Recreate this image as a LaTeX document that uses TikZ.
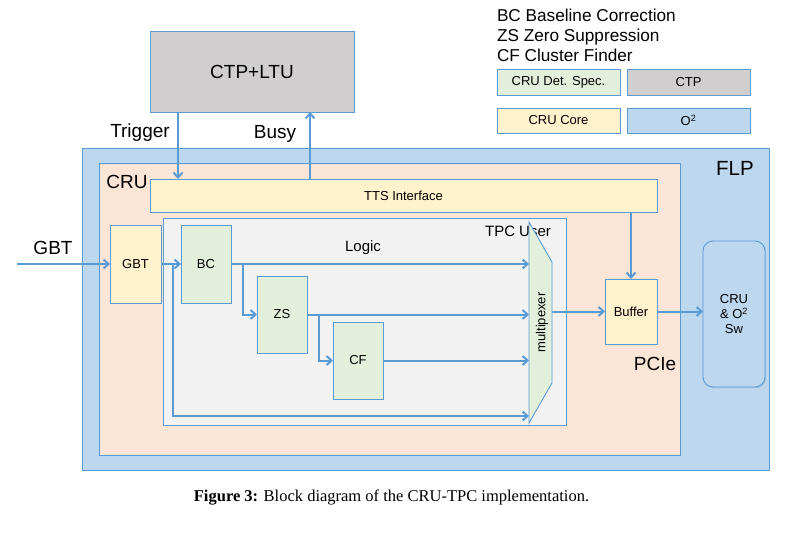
\documentclass[tikz,border=0pt]{standalone}
\usepackage{fontspec}
\setmainfont{Liberation Sans}
\newfontfamily\capfont{Liberation Serif}
\usetikzlibrary{arrows.meta,calc,shadows}
\definecolor{lineblue}{HTML}{5B9BD5}
\definecolor{flpblue}{HTML}{BDD7EE}
\definecolor{crupeach}{HTML}{FBE5D6}
\definecolor{coreyellow}{HTML}{FFF2CC}
\definecolor{detgreen}{HTML}{E2EFDA}
\definecolor{ctpgrey}{HTML}{D0CECE}
\definecolor{usergrey}{HTML}{F2F2F2}

\begin{document}
\begin{tikzpicture}[x=1pt, y=-1pt,
					every node/.style={inner sep=0pt, outer sep=0pt, align=center},
					box/.style={draw=lineblue, line width=0.9pt},
					blk/.style={box, font=\fontsize{13}{15}\selectfont, drop shadow={shadow xshift=1.2pt, shadow yshift=-1.2pt, opacity=0.25}},
					lbl/.style={font=\fontsize{19}{22}\selectfont},
					legend/.style={anchor=base west, font=\fontsize{17.2}{20}\selectfont},
					arr/.style={draw=lineblue, line width=2pt, -{Straight Barb[length=5pt, width=9pt]}}]
					\useasboundingbox (0,0) rectangle (806,540);
					\node[legend] (lbc) at (497,22) {BC Baseline Correction};
					\node[legend] (lzs) at (497,42) {ZS Zero Suppression};
					\node[legend] (lcf) at (497,62) {CF Cluster Finder};
					\node[blk, fill=detgreen, minimum width=123pt, minimum height=26pt] (ldet) at (558.5,82) {CRU Det. Spec.};
					\node[blk, fill=ctpgrey, minimum width=123pt, minimum height=26pt] (lctp) at (688.5,82) {CTP};
					\node[blk, fill=coreyellow, minimum width=123pt, minimum height=25pt] (lcore) at (558.5,120.5) {CRU Core};
					\node[blk, fill=flpblue, minimum width=123pt, minimum height=25pt] (lo2) at (688.5,120.5) {O\textsuperscript{2}};
					\node[blk, fill=ctpgrey, minimum width=204pt, minimum height=81pt, font=\fontsize{19}{22}\selectfont] (ctp) at (252,71.5) {CTP+LTU};
					\node[lbl] (triglbl) at (140,133) {Trigger};
					\node[lbl] (busylbl) at (275,134) {Busy};
					\node[box, fill=flpblue, minimum width=687pt, minimum height=322pt] (flp) at (425.5,309) {};
					\node[font=\fontsize{20.5}{24}\selectfont] (flplbl) at (735,168) {FLP};
					\node[box, fill=crupeach, minimum width=581pt, minimum height=292pt] (cru) at (389.5,309) {};
					\node[lbl] (crulbl) at (127,182) {CRU};
					\node[lbl] (pcielbl) at (655,364) {PCIe};
					\node[lbl] (gbtlbl) at (53,248) {GBT};
					\node[blk, fill=coreyellow, minimum width=507pt, minimum height=33pt] (tts) at (403.5,195.5) {TTS Interface};
					\node[blk, fill=usergrey, minimum width=403pt, minimum height=207pt] (user) at (364.5,321.5) {};
					\node[font=\fontsize{15}{18}\selectfont] (userlbl) at (518,231) {TPC User};
					\node[font=\fontsize{15}{18}\selectfont] (logiclbl) at (363,248) {Logic};
					\node[blk, fill=coreyellow, minimum width=51pt, minimum height=78pt] (gbt) at (135.5,264) {GBT};
					\node[blk, fill=detgreen, minimum width=50pt, minimum height=78pt] (bc) at (206,264) {BC};
					\node[blk, fill=detgreen, minimum width=50pt, minimum height=77pt] (zs) at (282,314.5) {ZS};
					\node[blk, fill=detgreen, minimum width=50pt, minimum height=77pt] (cf) at (358,360.5) {CF};
					\node[minimum width=23pt, minimum height=201pt] (mux) at (540.5,322.5) {};
					\draw[box, fill=detgreen] (mux.north west) -- ($(mux.east)+(0,-60.5)$) -- ($(mux.east)+(0,60.5)$) -- (mux.south west) -- cycle;
					\node[rotate=90, font=\fontsize{13}{15}\selectfont] (muxlbl) at ($(mux.center)+(1.5,0)$) {multipexer};
					\node[blk, fill=coreyellow, minimum width=52pt, minimum height=65pt] (buffer) at (631,311.5) {Buffer};
					\node[blk, fill=flpblue, rounded corners=10pt, minimum width=62pt, minimum height=146pt] (sw) at (734,314) {CRU\\\& O\textsuperscript{2}\\Sw};
					\coordinate (trig) at (178,0);
					\coordinate (busy) at (310,0);
					\coordinate (gbtin) at (17,264);
					\coordinate (bypass) at (173,264);
					\coordinate (bottom) at (0,416);
					\draw[arr] (trig |- ctp.south) -- (trig |- tts.north);
					\draw[arr] (busy |- tts.north) -- (busy |- ctp.south);
					\draw[arr] (gbtin) -- (gbt.west);
					\draw[arr] (gbt.east) -- (bc.west);
					\draw[arr] (bypass) |- (mux.west |- bottom);
					\draw[arr] (bc.east) -- (bc.east -| mux.west);
					\draw[arr] ($(bc.east)+(12,0)$) |- (zs.west);
					\draw[arr] (zs.east) -- (zs.east -| mux.west);
					\draw[arr] ($(zs.east)+(12,0)$) |- (cf.west);
					\draw[arr] (cf.east) -- (cf.east -| mux.west);
					\draw[arr] (mux.east |- buffer.west) -- (buffer.west);
					\draw[arr] (tts.south -| buffer.north) -- (buffer.north);
					\draw[arr] (buffer.east) -- (buffer.east -| sw.west);
					\node[anchor=base, font=\capfont\fontsize{16.5}{19}\selectfont] (caption) at (391.5,501) {\textbf{Figure 3:} Block diagram of the CRU-TPC implementation.};
				\end{tikzpicture}
\end{document}
